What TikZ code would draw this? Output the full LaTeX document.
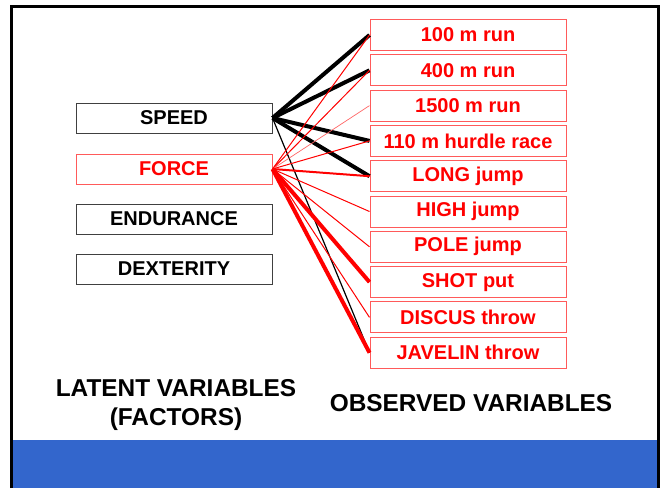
\documentclass[tikz,border=0pt]{standalone}
\usepackage{fontspec}
\setmainfont{Liberation Sans}
\usetikzlibrary{positioning}
\definecolor{Band}{HTML}{3366CC}
\definecolor{BoxRed}{HTML}{FF5A5A}

\begin{document}
\begin{tikzpicture}[x=1pt,y=-1pt,
    factor/.style={draw=black!75,line width=1pt,minimum width=196pt,minimum height=30pt,
      inner sep=0pt,font=\bfseries\fontsize{20}{24}\selectfont},
    observed/.style={draw=BoxRed,line width=1pt,minimum width=196pt,minimum height=31pt,
      inner sep=0pt,text=red,font=\bfseries\fontsize{20}{24}\selectfont},
    caption/.style={align=center,font=\bfseries\fontsize{24.4}{29}\selectfont}]
    \useasboundingbox (0,0) rectangle (667,488);
    \fill[Band] (12,440) rectangle (658,488);
    \draw[line width=3pt] (11.5,488) |- (658,6.5) -- (658,488);
    % latent variables
    \foreach \name/\y/\label in {speed/118/SPEED,endurance/219/ENDURANCE,dexterity/269/DEXTERITY}{
      \node[factor] (\name) at (174,\y) {\label};
    }
    \node[factor,draw=BoxRed,text=red] (force) at (174,169) {FORCE};
    % observed variables
    \foreach \name/\i/\label in {run100/0/100 m run,run400/1/400 m run,run1500/2/1500 m run,
      hurdle/3/110 m hurdle race,long/4/LONG jump,high/5/HIGH jump,pole/6/POLE jump,
      shot/7/SHOT put,discus/8/DISCUS throw,javelin/9/JAVELIN throw}{
      \node[observed] (\name) at (468,35+35.3*\i) {\label};
    }
    % loadings
    \foreach \to/\w in {run100/4pt,run400/4pt,hurdle/4pt,long/4pt,javelin/1.2pt}
      \draw[line width=\w] (speed.east) -- (\to.west);
    \foreach \to/\w/\c in {run100/1pt/red,run400/1pt/red,run1500/.7pt/red!60,hurdle/1pt/red,
      long/2pt/red,high/1pt/red,pole/1pt/red,shot/4pt/red,discus/1pt/red,javelin/4pt/red}
      \draw[\c,line width=\w] (force.east) -- (\to.west);
    \node[caption,anchor=base] (latent) at (176,425) {LATENT VARIABLES\\(FACTORS)};
    \node[caption,anchor=base] (obs) at (471,411) {OBSERVED VARIABLES};
  \end{tikzpicture}
\end{document}
